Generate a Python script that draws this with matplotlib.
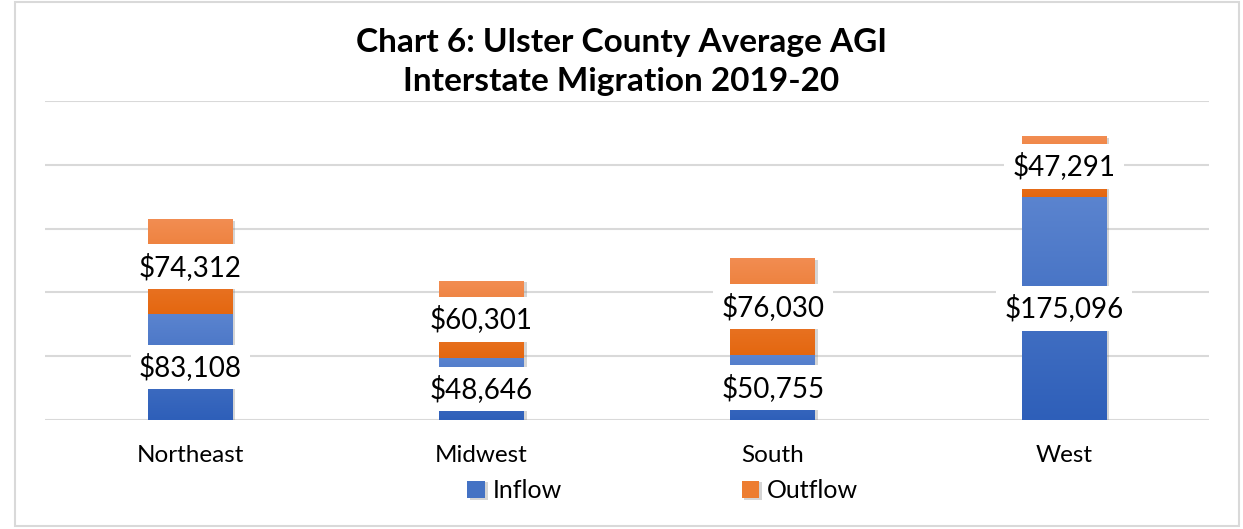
import numpy as np
import matplotlib
matplotlib.use('Agg')
import matplotlib.pyplot as plt
import matplotlib.patheffects as pe
from matplotlib.colors import LinearSegmentedColormap
from matplotlib.patches import Rectangle

plt.rcParams['font.family'] = ['Lato', 'DejaVu Sans']

# data
regions = ['Northeast', 'Midwest', 'South', 'West']
inflow = [83108, 48646, 50755, 175096]
outflow = [74312, 60301, 76030, 47291]

blue_cm = LinearSegmentedColormap.from_list('b', ['#2E5FB9', '#5B84CF'])
orange_cm = LinearSegmentedColormap.from_list('o', ['#E4670F', '#F28D52'])

fig = plt.figure(figsize=(12.43, 5.29), dpi=100)
ax = fig.add_axes([0.036, 0.206, 0.937, 0.603])

x = np.arange(len(regions))
w = 0.29
shadow = [pe.SimplePatchShadow(offset=(2, -1), shadow_rgbFace='#888888', alpha=0.35), pe.Normal()]
b1 = ax.bar(x, inflow, w, color='#4472C4', label='Inflow', zorder=2, path_effects=shadow)
b2 = ax.bar(x, outflow, w, bottom=inflow, color='#ED7D31', label='Outflow', zorder=2,
            path_effects=shadow)

# gradient fill inside each bar segment
grad = np.linspace(0, 1, 256).reshape(-1, 1)
for bars, cm in [(b1, blue_cm), (b2, orange_cm)]:
    for p in bars:
        x0, y0 = p.get_x(), p.get_y()
        im = ax.imshow(grad, cmap=cm, origin='lower', aspect='auto',
                       extent=[x0, x0 + p.get_width(), y0, y0 + p.get_height()], zorder=3)
        im.set_clip_path(p)

# data labels centred in each segment
for i in range(len(regions)):
    for val, bot in [(inflow[i], 0), (outflow[i], inflow[i])]:
        ax.text(x[i], bot + val / 2, '${:,}'.format(val), ha='center', va='center',
                fontsize=20, zorder=5,
                bbox=dict(boxstyle='square,pad=0.3', fc='white', ec='none'))

ax.set_xlim(-0.5, 3.5)
ax.set_ylim(0, 250000)
ax.set_yticks(np.arange(0, 250001, 50000))
ax.yaxis.grid(True, color='#D9D9D9', lw=1.5, zorder=0)
ax.set_axisbelow(True)
ax.tick_params(axis='y', left=False, labelleft=False)
ax.tick_params(axis='x', length=0, pad=18, labelsize=17.5)
ax.set_xticks(x)
ax.set_xticklabels(regions)
for s in ax.spines.values():
    s.set_visible(False)

fig.suptitle('Chart 6: Ulster County Average AGI\nInterstate Migration 2019-20',
             y=0.948, fontsize=24, fontweight='bold', linespacing=1.45, zorder=6)

fig.legend(loc='center', bbox_to_anchor=(0.533, 0.072), ncol=2, frameon=False,
           fontsize=18, handlelength=0.7, handleheight=0.7, handletextpad=0.3,
           columnspacing=7.2)

fig.patches.append(Rectangle((0.012, 0.006), 0.985, 0.99, transform=fig.transFigure,
                             fill=False, ec='#D9D9D9', lw=1.5))

fig.savefig('out.png', dpi=100)
